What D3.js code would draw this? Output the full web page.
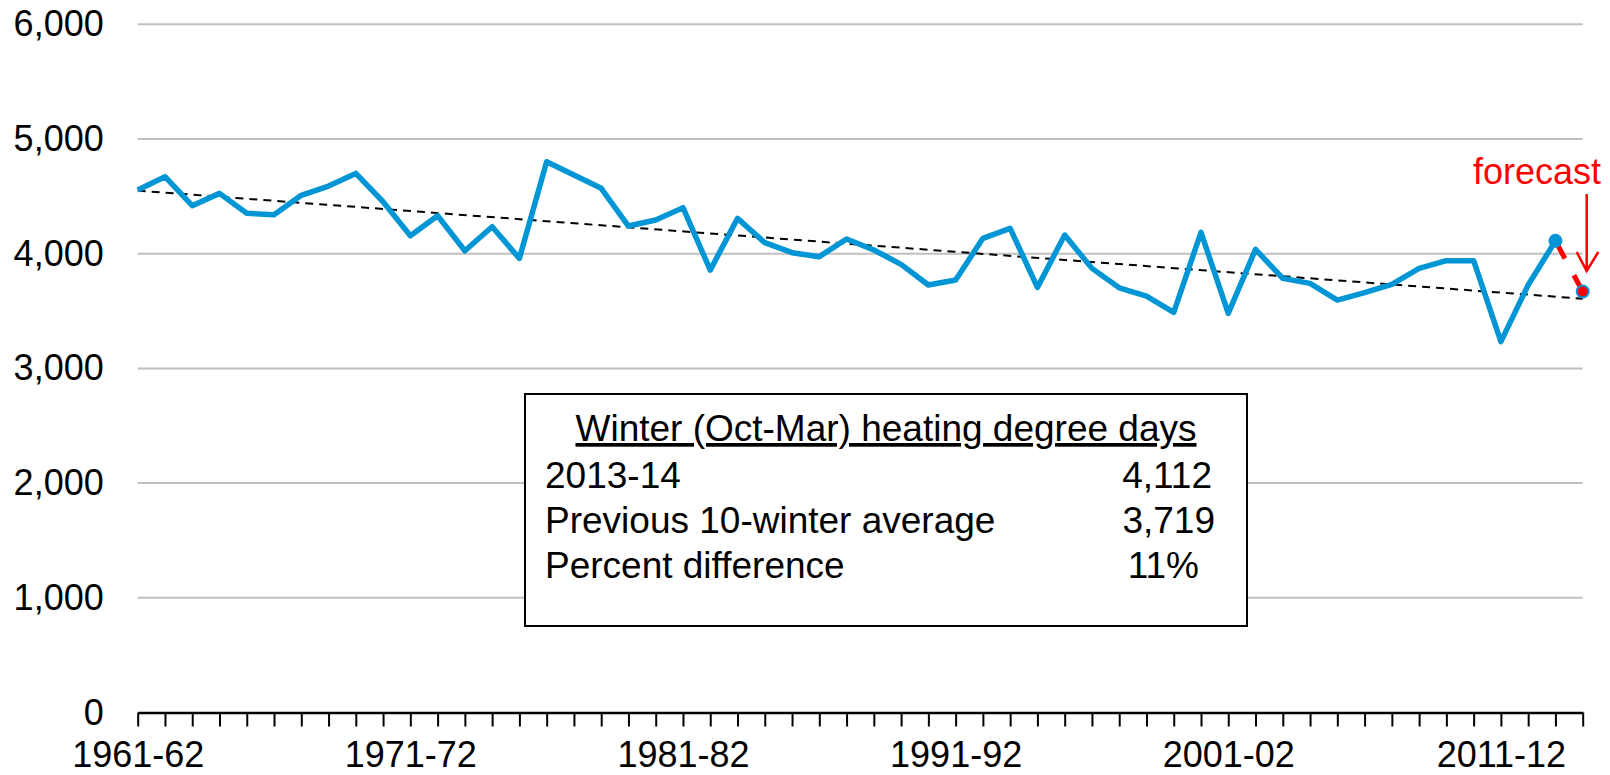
<!DOCTYPE html>
<html>
<head>
<meta charset="utf-8">
<script src="https://cdn.jsdelivr.net/npm/d3@7"></script>
<style>
  body { margin: 0; background: #fff; }
  svg { display: block; font-family: "Liberation Sans", Arial, sans-serif; }
</style>
</head>
<body>
<svg id="chart" width="1610" height="775"></svg>
<script>
// Winter (Oct-Mar) heating degree days, 1961-62 .. 2013-14, plus the 2014-15 forecast
const startYear = 1961;
const hdd = [
  4555, 4671, 4419, 4526, 4352, 4340, 4509, 4590, 4700, 4453,
  4157, 4331, 4026, 4235, 3959, 4802, 4686, 4570, 4241, 4294,
  4401, 3857, 4308, 4096, 4009, 3974, 4128, 4032, 3907, 3727,
  3770, 4134, 4221, 3706, 4163, 3872, 3703, 3631, 3488, 4186,
  3480, 4038, 3785, 3741, 3596, 3660, 3733, 3872, 3939, 3939,
  3233, 3727, 4112
];
const forecastValue = 3670;
const yTicks = [0, 1000, 2000, 3000, 4000, 5000, 6000];
const labelEvery = 10;

const boxTitle = "Winter (Oct-Mar) heating degree days";
const boxRows = ["2013-14", "Previous 10-winter average", "Percent difference"];
const boxValues = ["4,112", "3,719", "11%"];

const winters = d3.range(hdd.length + 1).map(i => {
  const y = startYear + i;
  return y + "-" + String((y + 1) % 100).padStart(2, "0");
});
const series = hdd.map((v, i) => ({ key: winters[i], value: v }));
const forecast = { key: winters[winters.length - 1], value: forecastValue };
const allPts = series.concat([forecast]);

const svg = d3.select("#chart");
const blue = "#0096d6";

const x = d3.scalePoint().domain(winters).range([137.7, 1582.7]);
const y = d3.scaleLinear().domain([0, 6000]).range([712.5, 24.3]);

// gridlines
svg.append("g").selectAll("line")
  .data(yTicks.filter(d => d > 0))
  .join("line")
    .attr("x1", x.range()[0]).attr("x2", x.range()[1])
    .attr("y1", d => y(d)).attr("y2", d => y(d))
    .attr("stroke", "#c0c0c0").attr("stroke-width", 2);

// y axis labels
const yAxis = svg.append("g")
  .attr("transform", `translate(${x.range()[0]},0)`)
  .call(d3.axisLeft(y).tickValues(yTicks).tickFormat(d3.format(",")).tickSize(0).tickPadding(34));
yAxis.select(".domain").remove();
yAxis.selectAll("text").attr("font-size", 36).attr("fill", "#000").attr("font-family", null);

// x axis
const xAxis = svg.append("g")
  .attr("transform", `translate(0,${y(0)})`)
  .call(d3.axisBottom(x)
    .tickSize(14).tickSizeOuter(0).tickPadding(15)
    .tickFormat((d, i) => i % labelEvery === 0 ? d : ""));
xAxis.select(".domain").attr("stroke", "#000").attr("stroke-width", 2.5);
xAxis.selectAll(".tick line").attr("stroke", "#000").attr("stroke-width", 2);
xAxis.selectAll("text").attr("font-size", 36).attr("fill", "#000").attr("font-family", null);

// linear trend (least squares over all winters incl. forecast)
const n = allPts.length;
const xs = d3.range(n);
const mx = d3.mean(xs), my = d3.mean(allPts, d => d.value);
const slope = d3.sum(xs, i => (i - mx) * (allPts[i].value - my)) / d3.sum(xs, i => (i - mx) ** 2);
const icpt = my - slope * mx;
svg.append("line")
  .attr("x1", x(winters[0])).attr("y1", y(icpt))
  .attr("x2", x(winters[n - 1])).attr("y2", y(icpt + slope * (n - 1)))
  .attr("stroke", "#000").attr("stroke-width", 2).attr("stroke-dasharray", "8,6");

// observed series
const line = d3.line().x(d => x(d.key)).y(d => y(d.value));
svg.append("path")
  .datum(series)
  .attr("d", line)
  .attr("fill", "none").attr("stroke", blue).attr("stroke-width", 5.5)
  .attr("stroke-linejoin", "round");

// dashed link to forecast
const last = series[series.length - 1];
svg.append("path")
  .datum([last, forecast])
  .attr("d", line)
  .attr("fill", "none").attr("stroke", "#ff0000").attr("stroke-width", 5)
  .attr("stroke-dasharray", "20,19");

svg.append("circle")
  .attr("cx", x(last.key)).attr("cy", y(last.value)).attr("r", 7)
  .attr("fill", blue);
svg.append("circle")
  .attr("cx", x(forecast.key)).attr("cy", y(forecast.value)).attr("r", 6)
  .attr("fill", "#ff0000").attr("stroke", blue).attr("stroke-width", 2);

// forecast annotation
svg.append("text")
  .attr("x", 1601).attr("y", 184)
  .attr("text-anchor", "end").attr("font-size", 36).attr("fill", "#ff0000")
  .text("forecast");
const ax = 1586.7;
svg.append("path")
  .attr("d", `M${ax},194 L${ax},271 M${ax - 10},252 L${ax},271 L${ax + 11.6},252`)
  .attr("fill", "none").attr("stroke", "#ff0000").attr("stroke-width", 2.5);

// summary box
const box = { x: 525, y: 394, w: 722, h: 232 };
const g = svg.append("g");
g.append("rect")
  .attr("x", box.x).attr("y", box.y).attr("width", box.w).attr("height", box.h)
  .attr("fill", "#fff").attr("stroke", "#000").attr("stroke-width", 2);
g.append("text")
  .attr("x", box.x + box.w / 2).attr("y", 441)
  .attr("text-anchor", "middle").attr("font-size", 37)
  .attr("text-decoration", "underline")
  .text(boxTitle);
const valueRight = [1212, 1215, 1199];
boxRows.forEach((r, i) => {
  g.append("text").attr("x", 545).attr("y", 488 + i * 45)
    .attr("font-size", 37).text(r);
  g.append("text").attr("x", valueRight[i]).attr("y", 488 + i * 45)
    .attr("font-size", 37).attr("text-anchor", "end").text(boxValues[i]);
});
</script>
</body>
</html>
